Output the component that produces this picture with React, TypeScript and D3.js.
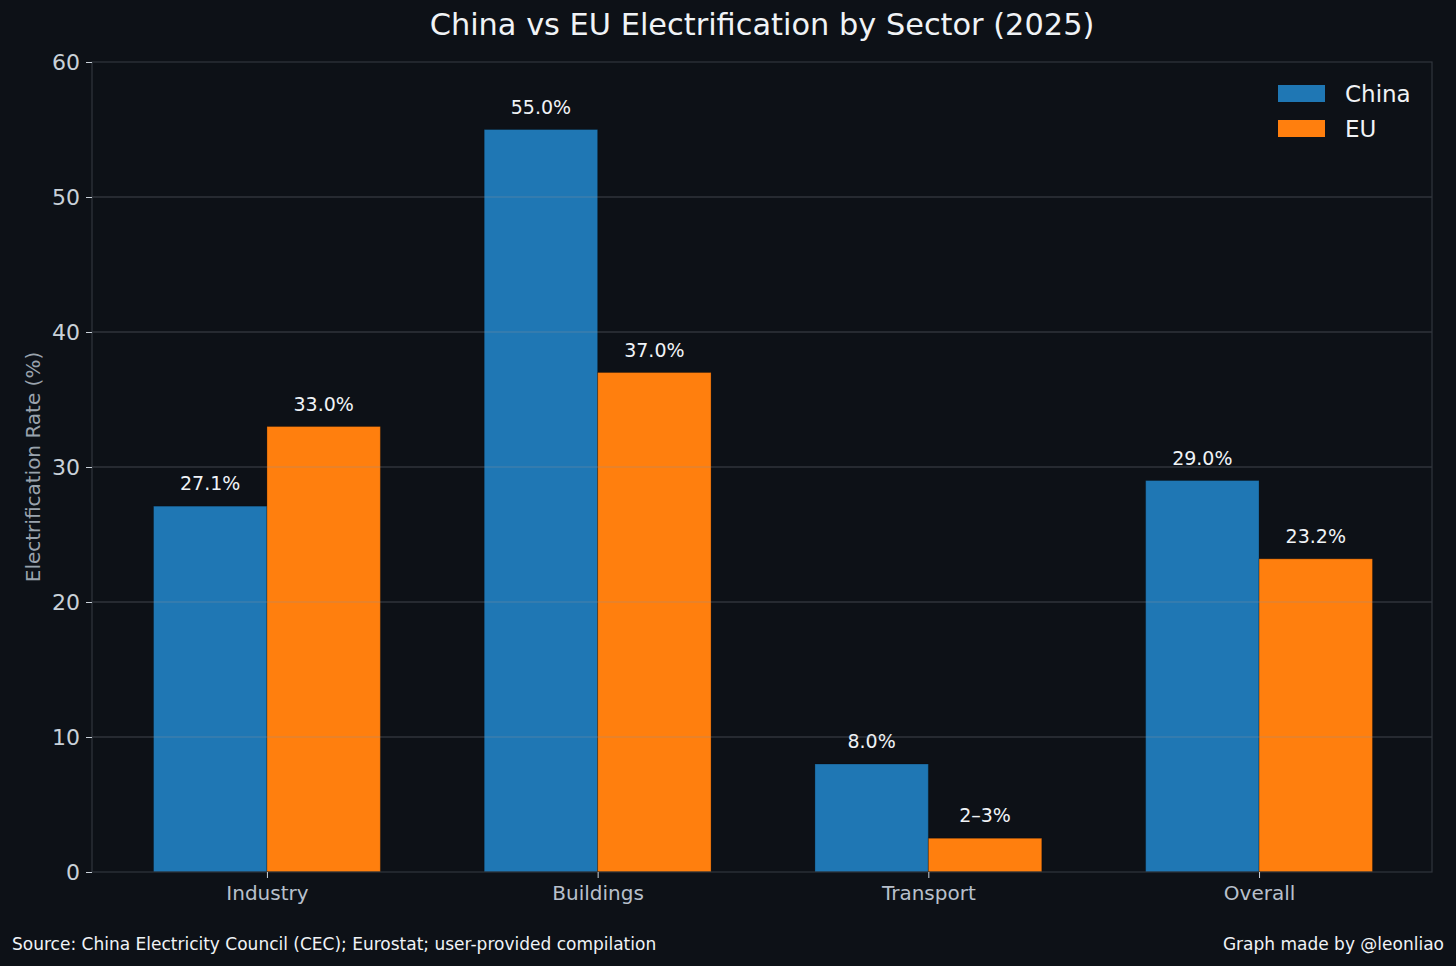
import { useEffect, useRef } from "react";
import * as d3 from "d3";

const sectors = ["Industry", "Buildings", "Transport", "Overall"];
const chinaValues = [27.1, 55.0, 8.0, 29.0];
const euValues = [33.0, 37.0, 2.5, 23.2];
const chinaLabels = ["27.1%", "55.0%", "8.0%", "29.0%"];
const euLabels = ["33.0%", "37.0%", "2–3%", "23.2%"];
const yTicks = [0, 10, 20, 30, 40, 50, 60];

const W = 1456;
const H = 966;
const BG = "#0d1117";
const BLUE = "#1f77b4";
const ORANGE = "#ff7f0e";
const FONT = "DejaVu Sans, sans-serif";

const App = () => {
  const svgRef = useRef(null);

  useEffect(() => {
    document.body.style.margin = "0";
    document.body.style.background = BG;
    if (!svgRef.current) return;

    const m = { top: 62, right: 24, bottom: 94, left: 92 };
    const iw = W - m.left - m.right;
    const ih = H - m.top - m.bottom;
    const barW = 0.343;

    const svg = d3.select(svgRef.current);
    svg.selectAll("*").remove();

    svg.append("rect").attr("width", W).attr("height", H).attr("fill", BG);

    const x = d3.scaleLinear().domain([-0.529, 3.523]).range([0, iw]);
    const y = d3.scaleLinear().domain([0, 60]).range([ih, 0]);

    const g = svg.append("g").attr("transform", `translate(${m.left},${m.top})`);

    //  bars
    const series = [
      { name: "China", vals: chinaValues, labels: chinaLabels, color: BLUE, off: -barW },
      { name: "EU", vals: euValues, labels: euLabels, color: ORANGE, off: 0 },
    ];

    series.forEach((s) => {
      g.append("g")
        .selectAll("rect")
        .data(s.vals)
        .join("rect")
        .attr("x", (_, i) => x(i + s.off))
        .attr("y", (d) => y(d))
        .attr("width", x(barW) - x(0))
        .attr("height", (d) => ih - y(d))
        .attr("fill", s.color)
        .attr("stroke", "rgba(0,0,0,0.25)")
        .attr("stroke-width", 1);

      g.append("g")
        .selectAll("text")
        .data(s.vals)
        .join("text")
        .attr("x", (_, i) => x(i + s.off + barW / 2))
        .attr("y", (d) => y(d) - 16)
        .attr("text-anchor", "middle")
        .attr("font-family", FONT)
        .attr("font-size", 19)
        .attr("fill", "#f0f3f6")
        .text((_, i) => s.labels[i]);
    });

    //  grid (on top of bars)
    g.append("g")
      .selectAll("line")
      .data(yTicks.filter((t) => t > 0 && t < 60))
      .join("line")
      .attr("x1", 0)
      .attr("x2", iw)
      .attr("y1", (d) => y(d))
      .attr("y2", (d) => y(d))
      .attr("stroke", "#8b949e")
      .attr("stroke-opacity", 0.4)
      .attr("stroke-width", 1);

    //  spines
    g.append("rect")
      .attr("width", iw)
      .attr("height", ih)
      .attr("fill", "none")
      .attr("stroke", "#30363d")
      .attr("stroke-width", 1.2);

    //  y axis
    const yAxis = g.append("g").call(d3.axisLeft(y).tickValues(yTicks).tickSize(6).tickPadding(6));
    yAxis.select(".domain").remove();
    yAxis.selectAll(".tick line").attr("stroke", "#c9d1d9");
    yAxis
      .selectAll(".tick text")
      .attr("fill", "#c9d1d9")
      .attr("font-family", FONT)
      .attr("font-size", 22);

    //  x axis
    const xAxis = g
      .append("g")
      .attr("transform", `translate(0,${ih})`)
      .call(
        d3
          .axisBottom(x)
          .tickValues(d3.range(sectors.length))
          .tickFormat((d: any) => sectors[d])
          .tickSize(6)
          .tickPadding(8)
      );
    xAxis.select(".domain").remove();
    xAxis.selectAll(".tick line").attr("stroke", "#c9d1d9");
    xAxis
      .selectAll(".tick text")
      .attr("fill", "#b8c0cc")
      .attr("font-family", FONT)
      .attr("font-size", 20);

    //  y label
    svg
      .append("text")
      .attr("transform", `translate(40,${m.top + ih / 2}) rotate(-90)`)
      .attr("text-anchor", "middle")
      .attr("font-family", FONT)
      .attr("font-size", 20)
      .attr("fill", "#9aa3ad")
      .text("Electrification Rate (%)");

    //  title
    svg
      .append("text")
      .attr("x", m.left + iw / 2)
      .attr("y", 35)
      .attr("text-anchor", "middle")
      .attr("font-family", FONT)
      .attr("font-size", 30.4)
      .attr("fill", "#f0f3f6")
      .text("China vs EU Electrification by Sector (2025)");

    //  legend
    const leg = svg.append("g").attr("transform", "translate(1278,85)");
    series.forEach((s, i) => {
      leg
        .append("rect")
        .attr("x", 0)
        .attr("y", i * 35)
        .attr("width", 47)
        .attr("height", 17)
        .attr("fill", s.color);
      leg
        .append("text")
        .attr("x", 67)
        .attr("y", i * 35 + 17)
        .attr("font-family", FONT)
        .attr("font-size", 23)
        .attr("fill", "#f0f3f6")
        .text(s.name);
    });

    //  footer
    svg
      .append("text")
      .attr("x", 12)
      .attr("y", 950)
      .attr("font-family", FONT)
      .attr("font-size", 17)
      .attr("fill", "#f0f3f6")
      .text("Source: China Electricity Council (CEC); Eurostat; user-provided compilation");
    svg
      .append("text")
      .attr("x", 1444)
      .attr("y", 950)
      .attr("text-anchor", "end")
      .attr("font-family", FONT)
      .attr("font-size", 17)
      .attr("fill", "#f0f3f6")
      .text("Graph made by @leonliao");
  }, []);

  return <svg ref={svgRef} width={W} height={H} style={{ display: "block" }} />;
};

export default App;
